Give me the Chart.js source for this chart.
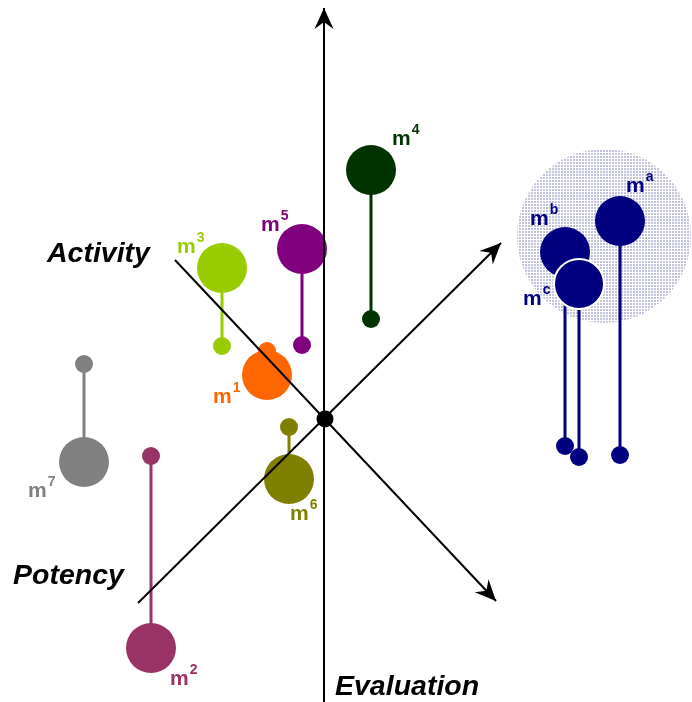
<!DOCTYPE html>
<html>
<head>
<meta charset="utf-8">
<script src="https://cdn.jsdelivr.net/npm/chart.js@4.4.1/dist/chart.umd.min.js"></script>
<style>
  html, body { margin: 0; padding: 0; background: #fff; }
  #wrap { width: 692px; height: 702px; position: relative; }
</style>
</head>
<body>
<div id="wrap"><canvas id="chart"></canvas></div>
<script>
// diagram space: x 0..692 left->right, y 0..702 top->bottom (same as the picture)
const sphereNames = ['1', '2', '3', '4', '5', '6', '7', 'a', 'b', 'c'];
const sphereX     = [267, 151, 222, 371, 302, 289, 84, 620, 565, 579];
const ballTop     = [375, 648, 268, 170, 249, 479, 462, 221, 252, 284]; // big ball
const ballBase    = [351, 456, 346, 319, 345, 427, 364, 455, 446, 457]; // small ball
const sphereColors = ['#ff6600', '#993366', '#99cc00', '#003300', '#800080',
                      '#808000', '#808080', '#000080', '#000080', '#000080'];
const labelX = [213, 170, 177, 392, 261, 290, 28, 626, 530, 523];
const labelY = [403, 685, 253, 145, 231, 520, 497, 192, 225, 305];

const axisNames  = ['Evaluation', 'Activity', 'Potency'];
const axisStart  = [{ x: 324, y: 702 }, { x: 175, y: 260 }, { x: 138, y: 603 }];
const axisEnd    = [{ x: 324, y: 8 },   { x: 496, y: 601 }, { x: 501, y: 243 }];
const axisLabelX = [335, 47, 13];
const axisLabelY = [695, 262, 584];
const origin = { x: 325, y: 419 };
const cluster = { x: 604, y: 236 }; // m^a, m^b, m^c group

const FONT = '"Liberation Sans", Arial, sans-serif';

// dotted fill for the cluster halo
function dotPattern() {
  const c = document.createElement('canvas');
  c.width = 3; c.height = 3;
  const g = c.getContext('2d');
  g.fillStyle = 'rgba(120,120,180,0.45)';
  g.fillRect(0, 0, 2, 2);
  return g.createPattern(c, 'repeat');
}

const layers = []; // bottom -> top
layers.push({
  type: 'scatter',
  data: [cluster],
  pointRadius: 87,
  backgroundColor: dotPattern(),
  borderWidth: 0,
});
sphereNames.forEach((name, i) => {
  const col = sphereColors[i];
  layers.push({
    type: 'line',
    data: [{ x: sphereX[i], y: ballTop[i] }, { x: sphereX[i], y: ballBase[i] }],
    borderColor: col,
    borderWidth: 3,
    pointRadius: 0,
  });
  layers.push({
    type: 'scatter',
    data: [{ x: sphereX[i], y: ballBase[i] }, { x: sphereX[i], y: ballTop[i] }],
    pointRadius: [9, 25],
    backgroundColor: col,
    borderColor: '#ffffff',
    borderWidth: name === 'c' ? [0, 2] : 0,
  });
});
axisNames.forEach((name, i) => {
  layers.push({
    type: 'line',
    arrow: true,
    data: [axisStart[i], axisEnd[i]],
    borderColor: '#000',
    borderWidth: 2,
    pointRadius: 0,
  });
});
layers.push({
  type: 'scatter',
  data: [origin],
  pointRadius: 8.5,
  backgroundColor: '#000',
  borderWidth: 0,
});
const datasets = layers.map((d, i) => ({ ...d, order: layers.length - i, clip: false }));

const arrowHeads = {
  id: 'arrowHeads',
  afterDatasetsDraw(chart) {
    const ctx = chart.ctx;
    chart.data.datasets.forEach((ds, i) => {
      if (!ds.arrow) return;
      const pts = chart.getDatasetMeta(i).data;
      const a = pts[0], b = pts[pts.length - 1];
      const len = Math.hypot(b.x - a.x, b.y - a.y);
      const ux = (b.x - a.x) / len, uy = (b.y - a.y) / len;
      const nx = -uy, ny = ux;
      const L = 21, W = 9.5, notch = 14;
      ctx.save();
      ctx.fillStyle = '#000';
      ctx.beginPath();
      ctx.moveTo(b.x, b.y);
      ctx.lineTo(b.x - L * ux + W * nx, b.y - L * uy + W * ny);
      ctx.lineTo(b.x - notch * ux, b.y - notch * uy);
      ctx.lineTo(b.x - L * ux - W * nx, b.y - L * uy - W * ny);
      ctx.closePath();
      ctx.fill();
      ctx.restore();
    });
  },
};

const labels = {
  id: 'labels',
  afterDraw(chart) {
    const ctx = chart.ctx;
    const sx = chart.scales.x, sy = chart.scales.y;
    ctx.save();
    ctx.textBaseline = 'alphabetic';
    ctx.textAlign = 'left';
    sphereNames.forEach((name, i) => {
      const x = sx.getPixelForValue(labelX[i]);
      const y = sy.getPixelForValue(labelY[i]);
      ctx.fillStyle = sphereColors[i];
      ctx.font = `bold 21px ${FONT}`;
      ctx.fillText('m', x, y);
      const w = ctx.measureText('m').width;
      ctx.font = `bold 14px ${FONT}`;
      ctx.fillText(name, x + w + 1, y - 11);
    });
    ctx.fillStyle = '#000';
    ctx.font = `italic bold 28.5px ${FONT}`;
    axisNames.forEach((name, i) => {
      ctx.fillText(name, sx.getPixelForValue(axisLabelX[i]), sy.getPixelForValue(axisLabelY[i]));
    });
    ctx.restore();
  },
};

new Chart(document.getElementById('chart'), {
  type: 'scatter',
  data: { datasets },
  options: {
    responsive: true,
    maintainAspectRatio: false,
    animation: false,
    events: [],
    layout: { padding: 0, autoPadding: false },
    scales: {
      x: { type: 'linear', min: 0, max: 692, display: false },
      y: { type: 'linear', min: 0, max: 702, reverse: true, display: false },
    },
    plugins: {
      legend: { display: false },
      tooltip: { enabled: false },
    },
  },
  plugins: [arrowHeads, labels],
});
</script>
</body>
</html>
